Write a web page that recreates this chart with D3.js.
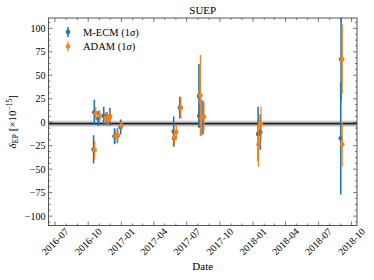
<!DOCTYPE html>
<html>
<head>
<meta charset="utf-8">
<script src="https://cdn.jsdelivr.net/npm/d3@7"></script>
<style>
  body { margin: 0; background: #fff; }
  text { font-family: "Liberation Serif", "DejaVu Serif", serif; fill: #000; }
</style>
</head>
<body>
<div id="chart"></div>
<script>
// ---- data ----
const ecmDates = ["2016-10-16", "2016-10-18", "2016-10-29", "2016-11-13", "2016-11-22", "2016-11-30",
  "2016-12-13", "2016-12-21", "2016-12-30", "2017-05-26", "2017-05-27", "2017-06-12", "2017-08-04",
  "2017-08-05", "2017-08-15", "2018-01-15", "2018-01-21", "2018-09-01", "2018-09-02"];
const ecmValues = [-29, 10.5, 4, 6.5, 3.5, 5.8, -15, -14.5, -5, -10, -17, 15.5, 28, 6.5, 5, -12.5, -10.6, -17, 67];
const ecmErrors = [15, 13.5, 8, 10, 7, 9.5, 8.5, 8, 8, 16, 8, 11.5, 34, 12, 18, 29, 19, 60, 44];

const adamDates = ["2016-10-19", "2016-10-22", "2016-11-02", "2016-11-18", "2016-11-25", "2016-12-01",
  "2016-12-16", "2016-12-22", "2017-01-01", "2017-06-02", "2017-05-28", "2017-06-15", "2017-08-08",
  "2017-08-11", "2017-08-18", "2018-01-16", "2018-01-23", "2018-09-05", "2018-09-05"];
const adamValues = [-29.5, 9.5, 7, 4.5, 3, 6, -15, -14, -3.6, -10.6, -16.4, 15.5, 28.5, 5, 6, -23.4, -1.8, -23.4, 67];
const adamErrors = [10, 7, 6, 6, 6, 6, 7, 7, 6, 8, 9, 11.5, 43, 20, 15, 24, 18.5, 24, 37];

const bandMean = -1.5;
const bandInner = 1.6;
const bandOuter = 3.2;

const yTicks = [-100, -75, -50, -25, 0, 25, 50, 75, 100];
const xDomain = ["2016-06-13", "2018-10-16"];
const yDomain = [-110, 111];

const seriesNames = ["M-ECM", "ADAM"];
const seriesColors = ["#1f77b4", "#ff7f0e"];

// ---- layout ----
const width = 374, height = 280;
const margin = { top: 18, right: 17, bottom: 54.5, left: 48.5 };
const parse = d3.timeParse("%Y-%m-%d");

const svg = d3.select("#chart").append("svg")
  .attr("width", width).attr("height", height);

const x = d3.scaleTime()
  .domain(xDomain.map(parse))
  .range([margin.left, width - margin.right]);
const y = d3.scaleLinear()
  .domain(yDomain)
  .range([height - margin.bottom, margin.top]);

const x0 = x.range()[0], x1 = x.range()[1];
const y0 = y.range()[0], y1 = y.range()[1];

svg.append("clipPath").attr("id", "clip")
  .append("rect").attr("x", x0).attr("y", y1).attr("width", x1 - x0).attr("height", y0 - y1);

// band (mean with uncertainty)
const band = svg.append("g").attr("clip-path", "url(#clip)");
band.append("rect")
  .attr("x", x0).attr("width", x1 - x0)
  .attr("y", y(bandMean + bandOuter)).attr("height", y(bandMean - bandOuter) - y(bandMean + bandOuter))
  .attr("fill", "#000").attr("fill-opacity", 0.2);
band.append("rect")
  .attr("x", x0).attr("width", x1 - x0)
  .attr("y", y(bandMean + bandInner)).attr("height", y(bandMean - bandInner) - y(bandMean + bandInner))
  .attr("fill", "#000").attr("fill-opacity", 0.3);
band.append("line")
  .attr("x1", x0).attr("x2", x1)
  .attr("y1", y(bandMean)).attr("y2", y(bandMean))
  .attr("stroke", "#222").attr("stroke-width", 1.4);

// error bars
function drawSeries(dates, values, errors, color, w) {
  const rows = dates.map((d, i) => ({ date: parse(d), v: values[i], e: errors[i] }));
  const g = svg.append("g").attr("clip-path", "url(#clip)");
  g.selectAll("line")
    .data(rows)
    .join("line")
    .attr("x1", (d) => x(d.date)).attr("x2", (d) => x(d.date))
    .attr("y1", (d) => y(d.v + d.e)).attr("y2", (d) => y(d.v - d.e))
    .attr("stroke", color).attr("stroke-width", w);
  g.selectAll("circle")
    .data(rows)
    .join("circle")
    .attr("cx", (d) => x(d.date)).attr("cy", (d) => y(d.v))
    .attr("r", 2.3).attr("fill", color);
}
drawSeries(ecmDates, ecmValues, ecmErrors, seriesColors[0], 1.6);
drawSeries(adamDates, adamValues, adamErrors, seriesColors[1], 1.2);

// ---- axes frame and ticks ----
const frameColor = "#555";
svg.append("rect")
  .attr("x", x0).attr("y", y1).attr("width", x1 - x0).attr("height", y0 - y1)
  .attr("fill", "none").attr("stroke", frameColor).attr("stroke-width", 1);

const ticks = svg.append("g").attr("stroke", frameColor).attr("stroke-width", 0.8);

// y major / minor ticks, both sides, inward
const yMinor = d3.range(-106.25, 110, 6.25).filter((v) => !yTicks.includes(v));
yTicks.forEach((v) => {
  ticks.append("line").attr("x1", x0).attr("x2", x0 + 4).attr("y1", y(v)).attr("y2", y(v));
  ticks.append("line").attr("x1", x1).attr("x2", x1 - 4).attr("y1", y(v)).attr("y2", y(v));
});
yMinor.forEach((v) => {
  ticks.append("line").attr("x1", x0).attr("x2", x0 + 2).attr("y1", y(v)).attr("y2", y(v));
  ticks.append("line").attr("x1", x1).attr("x2", x1 - 2).attr("y1", y(v)).attr("y2", y(v));
});

// x ticks: quarterly major, monthly minor
const xMajor = d3.timeMonth.every(3).range(parse("2016-07-01"), parse("2018-10-02"));
const xMinor = d3.timeMonth.range(...x.domain()).filter((d) => d.getMonth() % 3 !== 0);
xMajor.forEach((d) => {
  ticks.append("line").attr("x1", x(d)).attr("x2", x(d)).attr("y1", y0).attr("y2", y0 - 4);
  ticks.append("line").attr("x1", x(d)).attr("x2", x(d)).attr("y1", y1).attr("y2", y1 + 4);
});
xMinor.forEach((d) => {
  ticks.append("line").attr("x1", x(d)).attr("x2", x(d)).attr("y1", y0).attr("y2", y0 - 2);
  ticks.append("line").attr("x1", x(d)).attr("x2", x(d)).attr("y1", y1).attr("y2", y1 + 2);
});

// tick labels
svg.append("g")
  .selectAll("text")
  .data(yTicks)
  .join("text")
  .attr("x", x0 - 3)
  .attr("y", (d) => y(d))
  .attr("dy", "0.35em")
  .attr("text-anchor", "end")
  .attr("font-size", "10px")
  .text((d) => (d < 0 ? "\u2212" + Math.abs(d) : d));

const fmt = d3.timeFormat("%Y-%m");
svg.append("g")
  .selectAll("text")
  .data(xMajor)
  .join("text")
  .attr("transform", (d) => `translate(${x(d)}, ${y0 + 16}) rotate(-45)`)
  .attr("text-anchor", "middle")
  .attr("dy", "0.35em")
  .attr("font-size", "10px")
  .text((d) => fmt(d));

// titles
svg.append("text")
  .attr("x", (x0 + x1) / 2).attr("y", 14)
  .attr("text-anchor", "middle").attr("font-size", "11px")
  .text("SUEP");

svg.append("text")
  .attr("x", (x0 + x1) / 2).attr("y", 270)
  .attr("text-anchor", "middle").attr("font-size", "11px")
  .text("Date");

const ylab = svg.append("text")
  .attr("transform", `translate(16, ${(y0 + y1) / 2}) rotate(-90)`)
  .attr("text-anchor", "middle").attr("font-size", "11px");
ylab.append("tspan").attr("font-style", "italic").text("\u03b4");
ylab.append("tspan").attr("font-size", "8px").attr("dy", "2").text("EP");
ylab.append("tspan").attr("dy", "-2").text(" [\u00d710");
ylab.append("tspan").attr("font-size", "7.5px").attr("dy", "-4").text("\u221215");
ylab.append("tspan").attr("dy", "4").text("]");

// legend
const legend = svg.append("g").attr("transform", "translate(68, 32)");
seriesNames.forEach((name, i) => {
  const row = legend.append("g").attr("transform", `translate(0, ${i * 14.5})`);
  row.append("line").attr("x1", 0).attr("x2", 0).attr("y1", -5).attr("y2", 5)
    .attr("stroke", seriesColors[i]).attr("stroke-width", i === 0 ? 1.6 : 1.2);
  row.append("circle").attr("r", 2.3).attr("fill", seriesColors[i]);
  const t = row.append("text").attr("x", 15).attr("dy", "0.35em").attr("font-size", "10.5px");
  t.append("tspan").text(name + " (1");
  t.append("tspan").attr("font-style", "italic").text("\u03c3");
  t.append("tspan").text(")");
});
</script>
</body>
</html>
